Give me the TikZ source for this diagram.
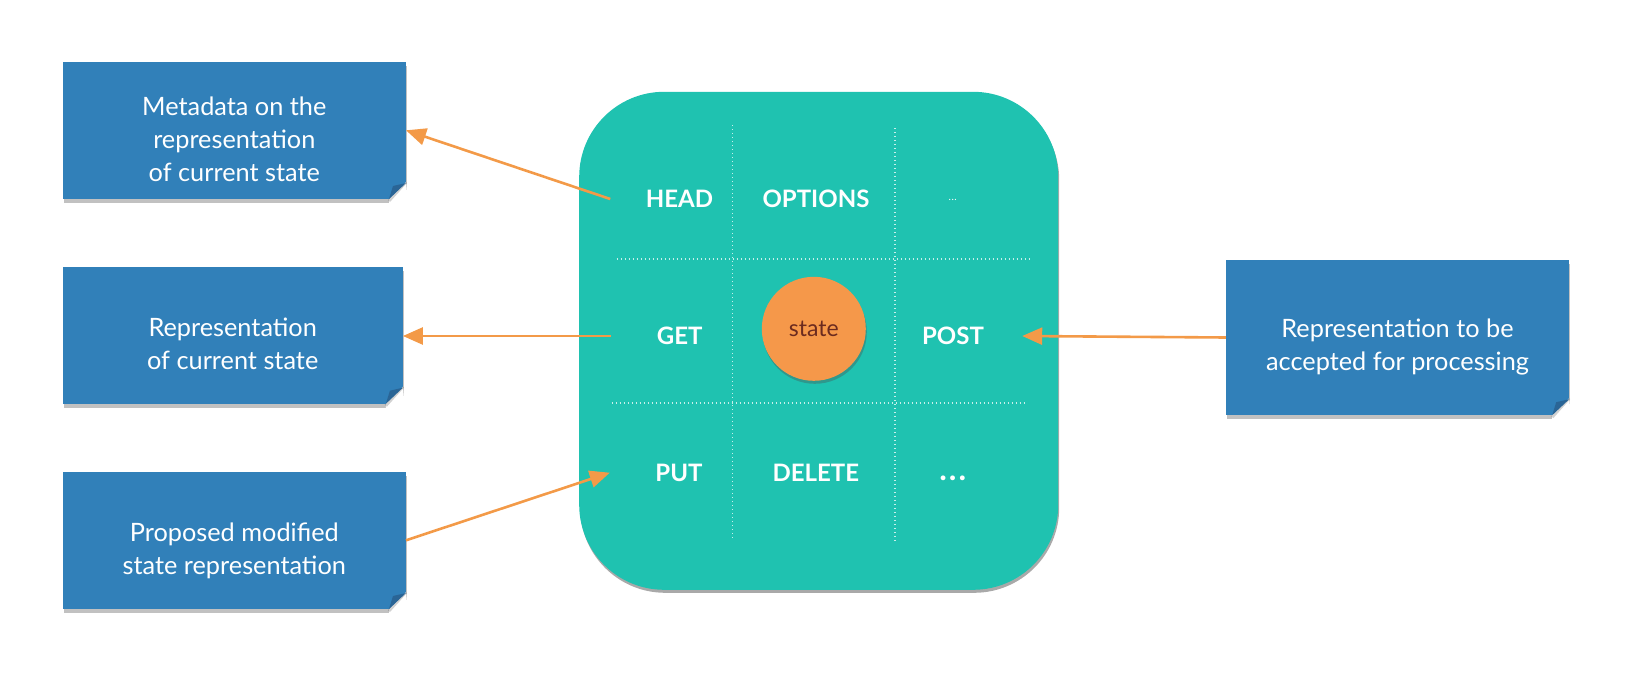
\documentclass[tikz,border=0pt]{standalone}
\usepackage{fontspec}
\setmainfont{Lato}
\usetikzlibrary{arrows.meta,shadows,calc}
\definecolor{boxblue}{HTML}{3180B9}
\definecolor{folddark}{HTML}{2A6596}
\definecolor{panelteal}{HTML}{1FC2B0}
\definecolor{arrorange}{HTML}{F39A48}
\definecolor{stateorange}{HTML}{F5984A}
\definecolor{statetext}{HTML}{6B2B1F}
\tikzset{
  note/.style={fill=boxblue, inner sep=0pt, minimum width=#1, minimum height=137pt,
    drop shadow={shadow xshift=1pt, shadow yshift=-4pt, opacity=0.35, fill=black!70}},
  notetext/.style={text=white, align=center, font=\fontsize{25.3}{33}\selectfont, inner sep=0pt},
  method/.style={text=white, font=\fontsize{24}{28}\selectfont\bfseries, minimum width=138pt, inner sep=0pt},
  gridline/.style={white, opacity=0.75, line width=1.2pt, dash pattern=on 1.2pt off 2.8pt},
  conn/.style={arrorange, line width=2.6pt, -{Triangle[length=20pt,width=17pt]}},
}
\newcommand{\foldcorner}[1]{%
  \fill[white] ([yshift=17pt]#1.south east) -- ([xshift=2pt,yshift=-5pt]#1.south east) -- ([xshift=-17pt,yshift=-6pt]#1.south east) -- ([xshift=-17pt]#1.south east) -- cycle;
  \fill[black, opacity=0.18] ([xshift=1pt,yshift=16pt]#1.south east) -- ([xshift=-16pt,yshift=-3pt]#1.south east) -- ([xshift=-18pt,yshift=-1pt]#1.south east) -- ([xshift=0pt,yshift=17pt]#1.south east) -- cycle;
  \fill[folddark] ([yshift=16pt]#1.south east) -- ([xshift=-13pt,yshift=13pt]#1.south east) .. controls ([xshift=-15pt,yshift=6pt]#1.south east) .. ([xshift=-17pt]#1.south east) -- cycle;
}
\begin{document}
\begin{tikzpicture}[x=1pt,y=-1pt]
\useasboundingbox (0,0) rectangle (1634,680);
% left notes
\node[note=343pt] (b1) at (234.3,130.3) {};
\foldcorner{b1}
\node[notetext] (t1) at ([yshift=-9pt]b1.center) {Metadata on the\\representation\\of current state};
\node[note=340pt] (b2) at (232.7,335) {};
\foldcorner{b2}
\node[notetext] (t2) at ([yshift=-9pt]b2.center) {Representation\\of current state};
\node[note=343pt] (b3) at (234.3,540.3) {};
\foldcorner{b3}
\node[notetext] (t3) at ([yshift=-11pt]b3.center) {Proposed modified\\state representation};
% right note
\node[note=343pt, minimum height=155pt] (b4) at (1397.5,337.5) {};
\foldcorner{b4}
\node[notetext] (t4) at ([yshift=-9pt]b4.center) {Representation to be\\accepted for processing};
% panel
\node[fill=panelteal, rounded corners=85pt, minimum width=479pt, minimum height=498pt, inner sep=0pt,
  drop shadow={shadow xshift=1pt, shadow yshift=-3pt, opacity=0.45, fill=black!75}] (panel) at (818.7,340.8) {};
% grid
\draw[gridline] (732.7,125) -- (732.7,538);
\draw[gridline] (895,128) -- (895,542);
\draw[gridline] (616.7,259) -- (1030,259);
\draw[gridline] (611.7,403) -- (1027,403);
% state
\node[circle, fill=stateorange, minimum size=104pt, inner sep=0pt,
  drop shadow={shadow xshift=1pt, shadow yshift=-3pt, opacity=0.35, fill=black!70},
  text=statetext, font=\fontsize{23}{26}\selectfont] (state) at (813.8,328.8) {\raisebox{-2pt}{state}};
% methods
\node[method] (head) at (679.5,199) {HEAD};
\node[method] (options) at (816,199) {OPTIONS};
\node[text=white, font=\fontsize{10}{11}\selectfont, inner sep=0pt] (dots1) at (952.7,200) {.\hspace{0.5pt}.\hspace{0.5pt}.};
\node[method] (get) at (679.7,336) {GET};
\node[method] (post) at (953,336) {POST};
\node[method] (put) at (679,472.7) {PUT};
\node[method] (delete) at (815.8,472.7) {DELETE};
\node[method, font=\fontsize{32}{34}\selectfont\bfseries] (dots2) at (952.7,478) {.\hspace{2pt}.\hspace{2pt}.};
% connectors
\draw[conn] (head.west) -- (b1.east);
\draw[conn] (get.west) -- (get.west -| b2.east);
\draw[conn] (b3.east) -- (put.west);
\draw[conn] (b4.west) -- (post.east);
\end{tikzpicture}
\end{document}
